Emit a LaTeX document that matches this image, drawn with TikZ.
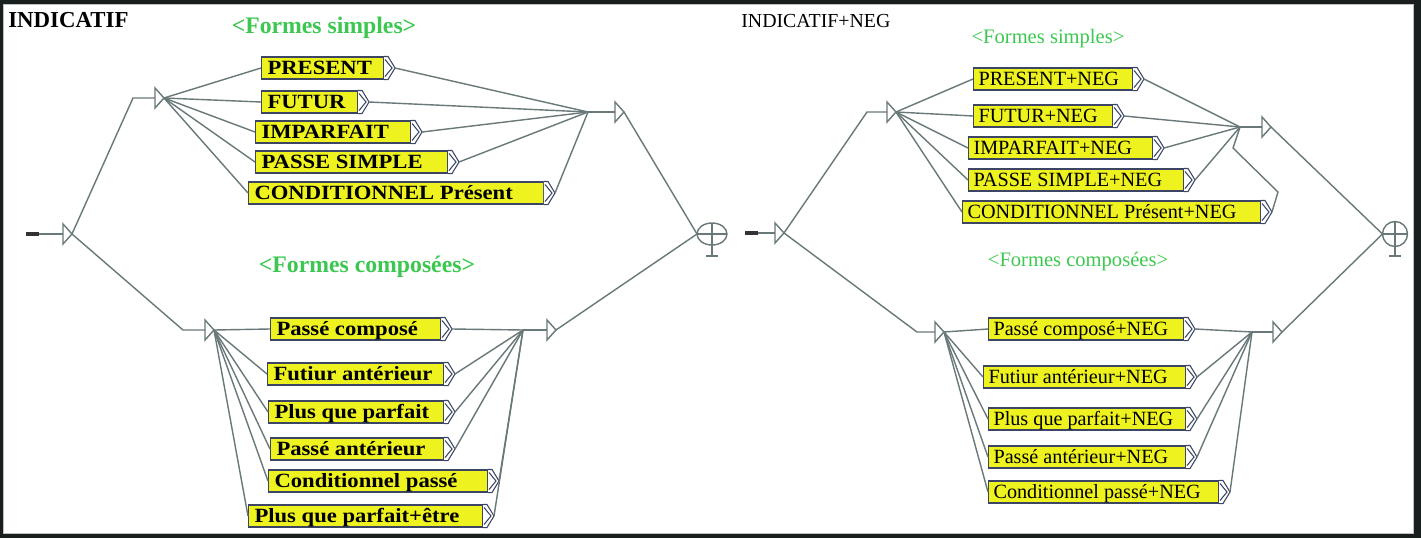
\documentclass[tikz,border=0pt]{standalone}
\usepackage{fontspec}
\usepackage{graphicx}
\setmainfont{Liberation Serif}
\usetikzlibrary{calc}
\definecolor{wiregray}{RGB}{105,120,120}
\definecolor{boxyellow}{RGB}{238,242,30}
\definecolor{boxedge}{RGB}{60,70,100}
\definecolor{titlegreen}{RGB}{60,200,80}
\definecolor{framedark}{RGB}{25,30,30}
\tikzset{
	wire/.style={line width=0.8pt, color=wiregray},
	startline/.style={line width=1.8pt, color=black!80},
	tipline/.style={line width=0.6pt, draw=boxedge},
	lbox/.style={draw=boxedge, fill=boxyellow, line width=0.6pt, anchor=west,
		minimum height=0.44cm, inner xsep=0.12cm, inner ysep=0pt,
		text height=0.35cm, text depth=0.09cm, font=\fontsize{11.5}{13}\selectfont\bfseries},
	rbox/.style={draw=boxedge, fill=boxyellow, line width=0.6pt, anchor=west,
		minimum height=0.44cm, inner xsep=0.1cm, inner ysep=0pt,
		text height=0.35cm, text depth=0.09cm, font=\fontsize{11.5}{13}\selectfont},
	lhead/.style={anchor=west, inner sep=0pt, font=\fontsize{13}{14}\selectfont\bfseries},
	rhead/.style={anchor=west, inner sep=0pt, font=\fontsize{11.3}{13}\selectfont},
	lgreen/.style={inner sep=0pt, color=titlegreen, font=\fontsize{13.5}{15}\selectfont\bfseries},
	rgreen/.style={inner sep=0pt, color=titlegreen, font=\fontsize{11.7}{13}\selectfont}
}
% box labels, left aligned in a fixed width (left graph is drawn wider)
\def\lbl#1#2{\makebox[#1][l]{\scalebox{1.12}[1]{#2}}}
\def\rlbl#1#2{\makebox[#1][l]{#2}}
% white ribbon end of a box, with its output point
\def\boxtip#1{%
	\draw[tipline, fill=white] (#1.north east) -- ++(4,0) -- ($(#1.east)+(11,0)$) -- ($(#1.south east)+(4,0)$) -- (#1.south east);
	\draw[tipline] ($(#1.north east)+(1,3)$) -- ($(#1.east)+(8,0)$) -- ($(#1.south east)+(1,-3)$);
	\coordinate (#1-out) at ($(#1.east)+(11,0)$);
}
% transition triangle, named by its tip
\def\junct(#1)(#2){%
	\coordinate (#1) at (#2);
	\coordinate (#1-in) at ($(#1)+(-9,0)$);
	\draw[wire] ($(#1)+(-9,-10)$) -- (#1) -- ($(#1)+(-9,10)$) -- cycle;
}
% final state
\def\finalstate(#1)(#2)(#3)(#4){%
	\coordinate (#1) at (#2);
	\coordinate (#1-in) at ($(#1)+(-#3,0)$);
	\draw[wire] (#1) ellipse [x radius=#3, y radius=#4];
	\draw[wire] ($(#1)+(-#3,0)$) -- ($(#1)+(#3,0)$);
	\draw[wire] ($(#1)+(0,-#4)$) -- ($(#1)+(0,22)$);
	\draw[wire] ($(#1)+(-6,22)$) -- ($(#1)+(6,22)$);
}

\begin{document}
\begin{tikzpicture}[x=0.02cm, y=-0.02cm]
			%%%%% FRAME %%%%%
			\useasboundingbox (0,0) rectangle (1421,538);
			\fill[framedark] (0,0) rectangle (1421,538);
			\fill[white] (3,4) rectangle (1414,534);
			\draw[black!25, line width=0.3pt] (3.5,4.5) rectangle (1413.5,533.5);
			
			%%%%% INDICATIF %%%%%
			\node[lhead] (ttl1) at (8,20) {INDICATIF};
			\node[lgreen] (fs1) at (324,28) {<Formes simples>};
			\node[lgreen] (fc1) at (367,267) {<Formes composées>};
			
			\coordinate (S1) at (39,234);
			\draw[startline] (26,234) -- (S1);
			\junct(L0)(72,234)
			\junct(L1)(164,98)
			\junct(L2)(624,112)
			\junct(L3)(214,330)
			\junct(L4)(556,330)
			\coordinate (C1) at (588,112);
			\coordinate (C2) at (523,330);
			\finalstate(F1)(712,234)(15)(11)
			
			\node[lbox] (pres) at (261,68) {\lbl{2.20cm}{PRESENT}};
			\node[lbox] (fut) at (261,102) {\lbl{1.68cm}{FUTUR}};
			\node[lbox] (imp) at (255,132) {\lbl{2.86cm}{IMPARFAIT}};
			\node[lbox] (ps) at (255,162) {\lbl{3.60cm}{PASSE SIMPLE}};
			\node[lbox] (cond) at (248,193) {\lbl{5.66cm}{CONDITIONNEL Présent}};
			
			\node[lbox] (pc) at (270,329) {\lbl{3.16cm}{Passé composé}};
			\node[lbox] (fa) at (267,374) {\lbl{3.28cm}{Futiur antérieur}};
			\node[lbox] (pqp) at (268,412) {\lbl{3.26cm}{Plus que parfait}};
			\node[lbox] (pa) at (270,449) {\lbl{3.22cm}{Passé antérieur}};
			\node[lbox] (cp) at (268,481) {\lbl{4.14cm}{Conditionnel passé}};
			\node[lbox] (pqpe) at (248,516) {\lbl{4.44cm}{Plus que parfait+être}};
			
			\foreach \b in {pres,fut,imp,ps,cond,pc,fa,pqp,pa,cp,pqpe} {\boxtip{\b}}
			
			\draw[wire] (S1) -- (L0-in);
			\draw[wire] (L0) -- (133,98) -- (L1-in);
			\draw[wire] (L0) -- (183,330) -- (L3-in);
			\foreach \b in {pres,fut,imp,ps,cond} {
				\draw[wire] (L1) -- (\b.west);
				\draw[wire] (\b-out) -- (C1);
			}
			\draw[wire] (C1) -- (L2-in);
			\draw[wire] (L2) -- (F1-in);
			\foreach \b in {pc,fa,pqp,pa,cp,pqpe} {
				\draw[wire] (L3) -- (\b.west);
				\draw[wire] (\b-out) -- (C2);
			}
			\draw[wire] (C2) -- (L4-in);
			\draw[wire] (L4) -- (F1-in);
			
			%%%%% INDICATIF+NEG %%%%%
			\node[rhead] (ttl2) at (741,21) {INDICATIF+NEG};
			\node[rgreen] (fs2) at (1048,39) {<Formes simples>};
			\node[rgreen] (fc2) at (1078,262) {<Formes composées>};
			
			\coordinate (S2) at (758,233);
			\draw[startline] (745,233) -- (S2);
			\junct(R0)(784,233)
			\junct(R1)(896,112)
			\junct(R2)(1271,127)
			\junct(R3)(944,332)
			\junct(R4)(1282,332)
			\coordinate (C3) at (1240,127);
			\coordinate (C4) at (1252,332);
			\finalstate(F2)(1395,234)(12.5)(12.5)
			
			\node[rbox] (rpres) at (973,79) {\rlbl{2.98cm}{PRESENT+NEG}};
			\node[rbox] (rfut) at (973,116) {\rlbl{2.58cm}{FUTUR+NEG}};
			\node[rbox] (rimp) at (968,148) {\rlbl{3.48cm}{IMPARFAIT+NEG}};
			\node[rbox] (rps) at (968,180) {\rlbl{4.10cm}{PASSE SIMPLE+NEG}};
			\node[rbox] (rcond) at (962,212) {\rlbl{5.76cm}{CONDITIONNEL Présent+NEG}};
			
			\node[rbox] (rpc) at (988,329) {\rlbl{3.70cm}{Passé composé+NEG}};
			\node[rbox] (rfa) at (983,377) {\rlbl{3.84cm}{Futiur antérieur+NEG}};
			\node[rbox] (rpqp) at (988,419) {\rlbl{3.74cm}{Plus que parfait+NEG}};
			\node[rbox] (rpa) at (988,457) {\rlbl{3.74cm}{Passé antérieur+NEG}};
			\node[rbox] (rcp) at (988,492) {\rlbl{4.40cm}{Conditionnel passé+NEG}};
			
			\foreach \b in {rpres,rfut,rimp,rps,rcond,rpc,rfa,rpqp,rpa,rcp} {\boxtip{\b}}
			
			\draw[wire] (S2) -- (R0-in);
			\draw[wire] (R0) -- (867,112) -- (R1-in);
			\draw[wire] (R0) -- (917,332) -- (R3-in);
			\foreach \b in {rpres,rfut,rimp,rps,rcond} {
				\draw[wire] (R1) -- (\b.west);
			}
			\foreach \b in {rpres,rfut,rimp,rps} {
				\draw[wire] (\b-out) -- (C3);
			}
			\draw[wire] (rcond-out) -- (1278,192) -- (1233,148) -- (C3);
			\draw[wire] (C3) -- (R2-in);
			\draw[wire] (R2) -- (F2-in);
			\foreach \b in {rpc,rfa,rpqp,rpa,rcp} {
				\draw[wire] (R3) -- (\b.west);
				\draw[wire] (\b-out) -- (C4);
			}
			\draw[wire] (C4) -- (R4-in);
			\draw[wire] (R4) -- (F2-in);
\end{tikzpicture}
\end{document}
